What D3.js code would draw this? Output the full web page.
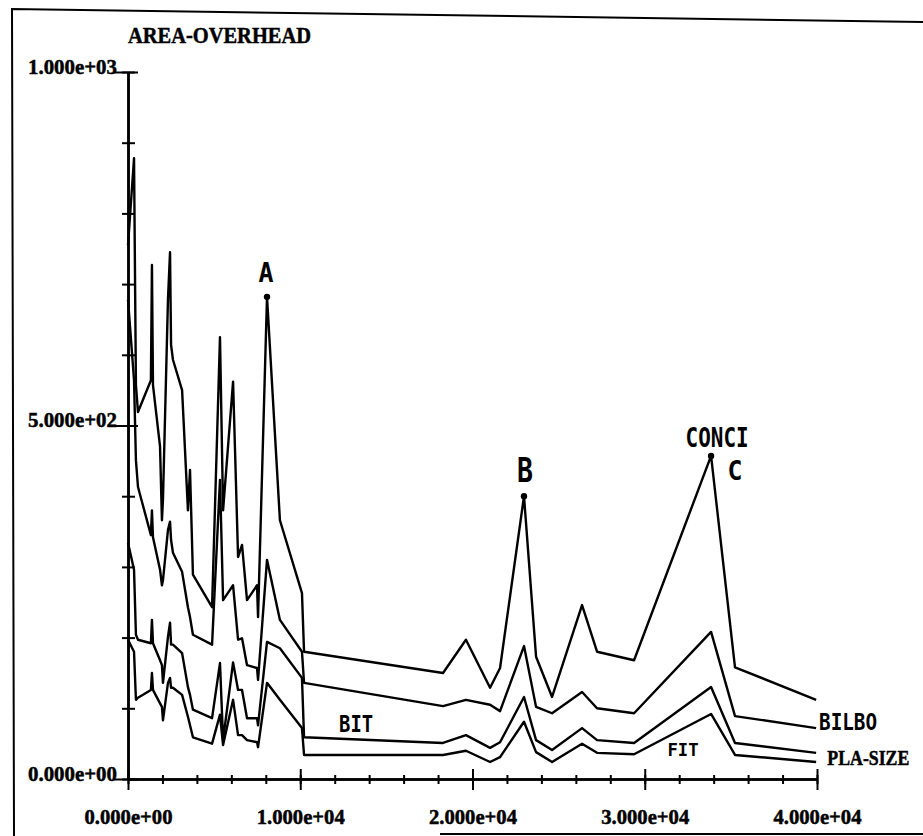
<!DOCTYPE html>
<meta charset="utf-8">
<title>AREA-OVERHEAD</title>
<style>
  body { margin: 0; background: #fff; }
  svg { display: block; }
  .lbl { font-family: "Liberation Serif", "DejaVu Serif", serif; font-weight: bold; stroke: #000; stroke-width: 0.5px; }
  .note { font-family: "DejaVu Sans Mono", monospace; font-weight: bold; }
</style>
<body>
  <script src="https://d3js.org/d3.v7.min.js"></script>
  <script>
    const width = 923;
    const height = 836;

    // PLA size (x) shared by all four curves
    const plaSize = [0, 350, 460, 580, 1330, 1390, 1450, 1860, 1970, 2030, 2320, 2440, 2500, 2610,
      3140, 3480, 3600, 3770, 4880, 5340, 5520, 6100, 6390, 6620, 6910, 7490, 7550, 8070, 8820,
      10100, 10220, 18290, 19620, 21020, 21600, 22990, 23690, 24620, 26360, 27230, 29380, 33850,
      35240, 39950];

    // area overhead of each tool
    const conci = [755, 878, 557, 519, 564, 727, 557, 470, 366, 395, 678, 745, 614, 593,
      550, 380, 437, 289, 243, 625, 380, 562, 314, 331, 253, 274, 229, 682, 366,
      263, 180, 150, 197, 129, 157, 400, 173, 116, 246, 180, 168, 457, 158, 112];
    const bilbo = [678, 564, 451, 413, 345, 380, 342, 296, 274, 281, 352, 364, 338, 320,
      293, 243, 229, 204, 190, 423, 253, 274, 197, 199, 161, 157, 140, 310, 225,
      180, 136, 103, 112, 105, 96, 188, 102, 93, 123, 100, 93, 208, 89, 72];
    const bit = [334, 296, 204, 197, 192, 225, 192, 168, 161, 136, 201, 221, 190, 190,
      178, 130, 119, 98, 86, 164, 55, 165, 126, 126, 86, 86, 76, 194, 185,
      143, 59, 51, 62, 44, 52, 116, 55, 41, 72, 55, 51, 130, 51, 37];
    const fit = [197, 180, 112, 115, 126, 150, 126, 107, 102, 83, 136, 143, 129, 129,
      119, 88, 76, 59, 50, 91, 48, 112, 62, 62, 55, 52, 45, 136, 112,
      72, 34, 34, 40, 24, 31, 81, 38, 24, 50, 37, 35, 92, 34, 24];

    const series = [conci, bilbo, bit, fit];

    // tick values
    const xMajor = [0, 10000, 20000, 30000, 40000];
    const xMinor = d3.range(0, 40001, 2000);
    const yMajor = [0, 500, 1000];
    const yMinor = d3.range(0, 1001, 100);

    // marked points A, B, C on the CONCI curve
    const peaks = [8070, 22990, 33850];

    const svg = d3.select("body")
      .append("svg")
      .attr("width", width)
      .attr("height", height);

    // scanned page frame
    svg.append("path")
      .attr("d", "M923,22 L12,9 L14,836 M440,834 L923,834")
      .attr("fill", "none")
      .attr("stroke", "#000")
      .attr("stroke-width", 2);

    const xScale = d3.scaleLinear().domain([0, 40000]).range([128, 817]);
    const yScale = d3.scaleLinear().domain([0, 1000]).range([779, 72]);

    const fmt = d => d.toExponential(3).replace(/e([+-])(\d)$/, "e$10$2");

    // x axis: minor ticks, then major ticks with labels
    svg.append("g")
      .attr("transform", "translate(0," + yScale(0) + ")")
      .call(d3.axisBottom(xScale).tickValues(xMinor).tickSize(0).tickFormat(""))
      .call(g => g.selectAll(".tick line").attr("y1", -4).attr("y2", 5));
    svg.append("g")
      .attr("transform", "translate(0," + yScale(0) + ")")
      .call(d3.axisBottom(xScale).tickValues(xMajor).tickSize(0).tickFormat(fmt))
      .call(g => g.selectAll(".tick line").attr("y1", -10).attr("y2", 11))
      .call(g => g.selectAll(".tick text")
        .attr("class", "lbl")
        .attr("y", 45).attr("dy", 0)
        .attr("font-size", 21)
        .attr("textLength", 88)
        .attr("lengthAdjust", "spacingAndGlyphs"));

    // y axis
    svg.append("g")
      .attr("transform", "translate(" + xScale(0) + ",0)")
      .call(d3.axisLeft(yScale).tickValues(yMinor).tickSize(0).tickFormat(""))
      .call(g => g.selectAll(".tick line").attr("x1", -6).attr("x2", 7));
    svg.append("g")
      .attr("transform", "translate(" + xScale(0) + ",0)")
      .call(d3.axisLeft(yScale).tickValues(yMajor).tickSize(0).tickFormat(fmt))
      .call(g => g.selectAll(".tick line").attr("x1", -14).attr("x2", 10))
      .call(g => g.selectAll(".tick text")
        .attr("class", "lbl")
        .attr("x", -11).attr("dy", 1)
        .attr("font-size", 21)
        .attr("textLength", 89)
        .attr("lengthAdjust", "spacingAndGlyphs"));

    svg.selectAll(".domain").attr("stroke", "#000").attr("stroke-width", 2.5);
    svg.selectAll(".tick line").attr("stroke", "#000").attr("stroke-width", 2);
    svg.selectAll("g").attr("font-family", null);

    // curves
    const line = d3.line()
      .x((d, i) => xScale(plaSize[i]))
      .y(d => yScale(d));

    svg.append("g")
      .selectAll("path")
      .data(series)
      .enter()
      .append("path")
      .attr("d", line)
      .attr("fill", "none")
      .attr("stroke", "#000")
      .attr("stroke-width", 2.4)
      .attr("stroke-linejoin", "round");

    svg.append("g")
      .selectAll("circle")
      .data(peaks)
      .enter()
      .append("circle")
      .attr("cx", d => xScale(d))
      .attr("cy", d => yScale(conci[plaSize.indexOf(d)]))
      .attr("r", 3.2)
      .attr("fill", "#000");

    // titles
    svg.append("text")
      .attr("class", "lbl")
      .attr("x", xScale(0))
      .attr("y", 43)
      .attr("font-size", 24)
      .attr("textLength", 183)
      .attr("lengthAdjust", "spacingAndGlyphs")
      .text("AREA-OVERHEAD");

    svg.append("text")
      .attr("class", "lbl")
      .attr("x", xScale(40600))
      .attr("y", yScale(20))
      .attr("font-size", 21)
      .attr("textLength", 82)
      .attr("lengthAdjust", "spacingAndGlyphs")
      .text("PLA-SIZE");

    // plotter-lettered annotations
    const notes = [
      {t: "A", x: 8010, y: 703, s: 27, w: 15, a: "middle"},
      {t: "B", x: 23050, y: 420, s: 34, w: 16, a: "middle"},
      {t: "CONCI", x: 34200, y: 470, s: 27, w: 63, a: "middle"},
      {t: "C", x: 35240, y: 423, s: 27, w: 15, a: "middle"},
      {t: "BIT", x: 13240, y: 66, s: 23, w: 34, a: "middle"},
      {t: "BILBO", x: 40120, y: 69, s: 23, w: 58, a: "start"},
      {t: "FIT", x: 32220, y: 33, s: 18, w: 31, a: "middle"}
    ];

    svg.append("g")
      .selectAll("text")
      .data(notes)
      .enter()
      .append("text")
      .attr("class", "note")
      .attr("x", d => xScale(d.x))
      .attr("y", d => yScale(d.y))
      .attr("font-size", d => d.s)
      .attr("text-anchor", d => d.a)
      .attr("textLength", d => d.w)
      .attr("lengthAdjust", "spacingAndGlyphs")
      .text(d => d.t);
  </script>
</body>
